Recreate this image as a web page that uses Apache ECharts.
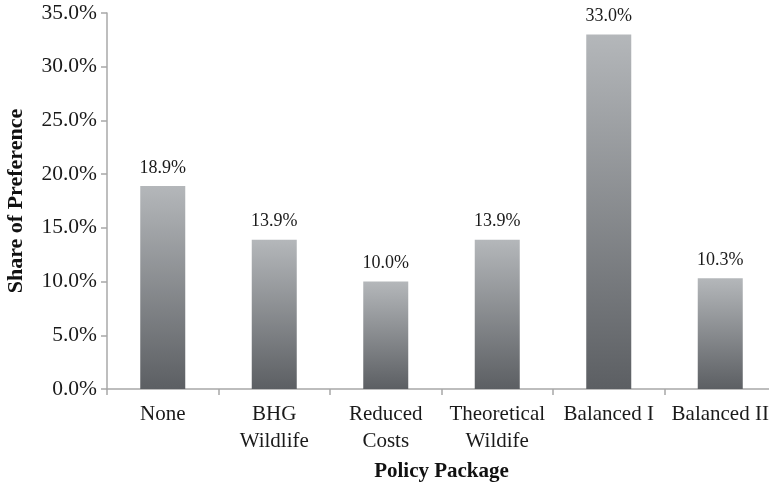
<!DOCTYPE html>
<html><head><meta charset="utf-8">
<script src="https://cdn.jsdelivr.net/npm/echarts@6/dist/echarts.min.js"></script>
<style>html,body{margin:0;padding:0;background:#fff}#c{width:769px;height:487px}</style>
</head><body><div id="c"></div>
<script>
const categories = ["None", "BHG\nWildlife", "Reduced\nCosts", "Theoretical\nWildife", "Balanced I", "Balanced II"];
const shares = [18.9, 13.9, 10.0, 13.9, 33.0, 10.3];
const yTicks = [0, 5, 10, 15, 20, 25, 30, 35];

const chart = echarts.init(document.getElementById('c'));
const serif = '"Liberation Serif", "DejaVu Serif", serif';
chart.setOption({
  animation: false,
  grid: { left: 107, top: 13, width: 669, height: 376, containLabel: false, outerBoundsMode: 'none' },
  xAxis: {
    type: 'category', data: categories,
    name: 'Policy Package', nameLocation: 'middle', nameGap: 72,
    nameTextStyle: { fontFamily: serif, fontSize: 21, fontWeight: 'bold', color: '#111' },
    axisLine: { lineStyle: { color: '#a8a8a8', width: 1.5 } },
    axisTick: { show: true, alignWithLabel: false, length: 6, lineStyle: { color: '#a8a8a8', width: 1.5 } },
    axisLabel: { fontFamily: serif, fontSize: 21, color: '#1a1a1a', margin: 12, lineHeight: 27, interval: 0 }
  },
  yAxis: {
    type: 'value', min: yTicks[0], max: yTicks[yTicks.length - 1], interval: 5,
    name: 'Share of Preference', nameLocation: 'middle', nameGap: 80, nameRotate: 90,
    nameTextStyle: { fontFamily: serif, fontSize: 22, fontWeight: 'bold', color: '#111' },
    axisLine: { show: true, lineStyle: { color: '#a8a8a8', width: 1.5 } },
    axisTick: { show: true, length: 6, lineStyle: { color: '#a8a8a8', width: 1.5 } },
    splitLine: { show: false },
    axisLabel: { fontFamily: serif, fontSize: 21.5, color: '#1a1a1a', margin: 10, formatter: v => v.toFixed(1) + '%' }
  },
  series: [{
    type: 'bar', data: shares, barWidth: 45,
    itemStyle: {
      color: new echarts.graphic.LinearGradient(0, 0, 0, 1, [
        { offset: 0, color: '#b4b7ba' },
        { offset: 1, color: '#5c5f63' }
      ])
    },
    label: { show: true, position: 'top', distance: 9, fontFamily: serif, fontSize: 18, color: '#1a1a1a', formatter: p => p.value.toFixed(1) + '%' }
  }]
});
</script></body></html>
